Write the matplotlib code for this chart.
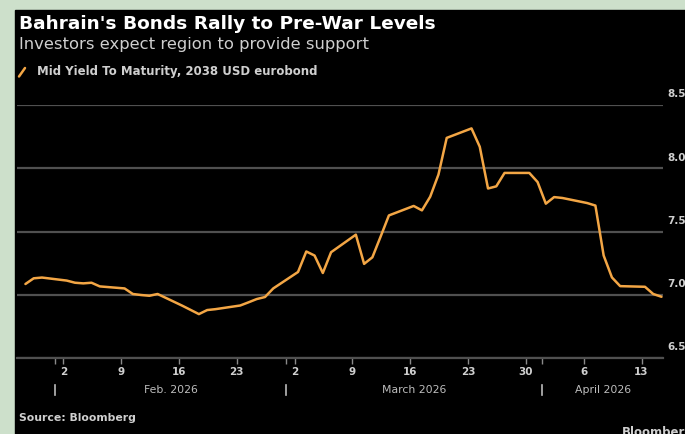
import matplotlib
matplotlib.use("Agg")
import matplotlib.pyplot as plt
import matplotlib.dates as mdates
from matplotlib.lines import Line2D
from matplotlib.transforms import blended_transform_factory
import pandas as pd

# ---------------- data ----------------
dates = ["2026-01-28", "2026-01-29", "2026-01-30",
         "2026-02-02", "2026-02-03", "2026-02-04", "2026-02-05", "2026-02-06",
         "2026-02-09", "2026-02-10", "2026-02-11", "2026-02-12", "2026-02-13",
         "2026-02-16", "2026-02-17", "2026-02-18", "2026-02-19", "2026-02-20",
         "2026-02-23", "2026-02-24", "2026-02-25", "2026-02-26", "2026-02-27",
         "2026-03-02", "2026-03-03", "2026-03-04", "2026-03-05", "2026-03-06",
         "2026-03-09", "2026-03-10", "2026-03-11", "2026-03-12", "2026-03-13",
         "2026-03-16", "2026-03-17", "2026-03-18", "2026-03-19", "2026-03-20",
         "2026-03-23", "2026-03-24", "2026-03-25", "2026-03-26", "2026-03-27",
         "2026-03-30", "2026-03-31", "2026-04-01", "2026-04-02", "2026-04-03",
         "2026-04-06", "2026-04-07", "2026-04-08", "2026-04-09", "2026-04-10",
         "2026-04-13", "2026-04-14", "2026-04-15"]
yields = [7.085, 7.130, 7.136,
          7.112, 7.095, 7.090, 7.095, 7.066,
          7.050, 7.006, 6.998, 6.992, 7.006,
          6.913, 6.880, 6.847, 6.879, 6.886,
          6.915, 6.940, 6.966, 6.982, 7.050,
          7.180, 7.342, 7.310, 7.172, 7.336,
          7.475, 7.244, 7.296, 7.460, 7.627,
          7.702, 7.667, 7.775, 7.950, 8.240,
          8.315, 8.170, 7.840, 7.857, 7.963,
          7.963, 7.891, 7.720, 7.772, 7.765,
          7.725, 7.705, 7.310, 7.137, 7.068,
          7.063, 7.006, 6.984]
y_ticks = [6.5, 7.0, 7.5, 8.0, 8.5]
y_tick_labels = ["6.5", "7.0", "7.5", "8.0", "8.5"]
week_ticks = ["2026-02-02", "2026-02-09", "2026-02-16", "2026-02-23",
              "2026-03-02", "2026-03-09", "2026-03-16", "2026-03-23",
              "2026-03-30", "2026-04-06", "2026-04-13"]
month_starts = ["2026-02-01", "2026-03-01", "2026-04-01"]
month_labels = ["Feb. 2026", "March 2026", "April 2026"]

title = "Bahrain's Bonds Rally to Pre-War Levels"
subtitle = "Investors expect region to provide support"
legend_label = "Mid Yield To Maturity, 2038 USD eurobond"
source = "Source: Bloomberg"

# ---------------- style ----------------
W, H = 685, 434
BG = "#000000"
GREEN = "#cde0cb"
LINE = "#f3a645"
GRID = "#505050"
TXT = "#cfcfcf"

fig = plt.figure(figsize=(W / 100, H / 100), dpi=100)
fig.patch.set_facecolor(GREEN)
# black panel
fig.patches.append(plt.Rectangle((15 / W, 0), 1 - 15 / W, 1 - 10 / H,
                                 transform=fig.transFigure, color=BG,
                                 zorder=-10))

def fx(px):
    return px / W

def fy(py):
    return 1 - py / H

ax = fig.add_axes([fx(17), fy(358), fx(663) - fx(17), fy(105) - fy(358)])
ax.set_zorder(5)
ax.patch.set_alpha(0)

x = pd.to_datetime(dates) + pd.Timedelta(hours=10)
ax.plot(x, yields, color=LINE, lw=1.8, solid_joinstyle="round",
        solid_capstyle="round", zorder=3)

ref = pd.Timestamp("2026-02-02")
ax.set_xlim(ref + pd.Timedelta(days=-5.605), ref + pd.Timedelta(days=72.6))
ax.set_ylim(6.5, 8.5)

for s in ["top", "right", "left"]:
    ax.spines[s].set_visible(False)
ax.spines["bottom"].set_color(GRID)
ax.spines["bottom"].set_linewidth(1.6)

ax.set_yticks(y_ticks)
ax.yaxis.grid(True, color=GRID, lw=1.6)
ax.tick_params(axis="y", length=0, labelleft=False)
ax.set_axisbelow(True)
for v, lab in zip(y_ticks, y_tick_labels):
    ax.annotate(lab, xy=(1, v), xycoords=("axes fraction", "data"),
                xytext=(3, 4), textcoords="offset points",
                ha="left", va="bottom", color=TXT, fontsize=7.5,
                fontweight="bold", annotation_clip=False)

wt = pd.to_datetime(week_ticks)
ax.set_xticks(wt)
ax.set_xticklabels([str(d.day) for d in wt])
ax.set_xticks(pd.to_datetime(month_starts), minor=True)
ax.tick_params(axis="x", which="both", direction="out", length=4, width=1,
               color="#8a8a8a", colors=TXT, labelsize=7.5, pad=2.5)
for lab in ax.get_xticklabels():
    lab.set_fontweight("bold")

trans = blended_transform_factory(ax.transData, ax.transAxes)
ms = pd.to_datetime(month_starts)
right_end = ax.get_xlim()[1]
for i, m in enumerate(ms):
    xm = mdates.date2num(m)
    ax.add_line(Line2D([xm, xm], [-0.107, -0.148], transform=trans,
                       color="#bbbbbb", lw=1.2, clip_on=False))
    x_next = mdates.date2num(ms[i + 1]) if i + 1 < len(ms) else right_end
    ax.text((xm + x_next) / 2, -0.127, month_labels[i], transform=trans,
            ha="center", va="center", color="#bdbdbd", fontsize=7.8)

# titles
fig.text(fx(19), fy(24), title, ha="left", va="center", color="white",
         fontsize=13.3, fontweight="bold")
fig.text(fx(19), fy(44), subtitle, ha="left", va="center", color=TXT,
         fontsize=11.8)
fig.add_artist(Line2D([fx(19), fx(25)], [fy(76.5), fy(68)], color=LINE, lw=1.8,
                      transform=fig.transFigure, solid_capstyle="round"))
fig.text(fx(37), fy(72), legend_label, ha="left", va="center", color=TXT,
         fontsize=8.5, fontweight="bold")
fig.text(fx(19), fy(418), source, ha="left", va="center", color=TXT,
         fontsize=7.8, fontweight="bold")
fig.text(fx(622), fy(426), "Bloomberg", ha="left", va="top", color=TXT,
         fontsize=8.5, fontweight="bold")

fig.savefig("out.png", dpi=100, facecolor=fig.get_facecolor())
